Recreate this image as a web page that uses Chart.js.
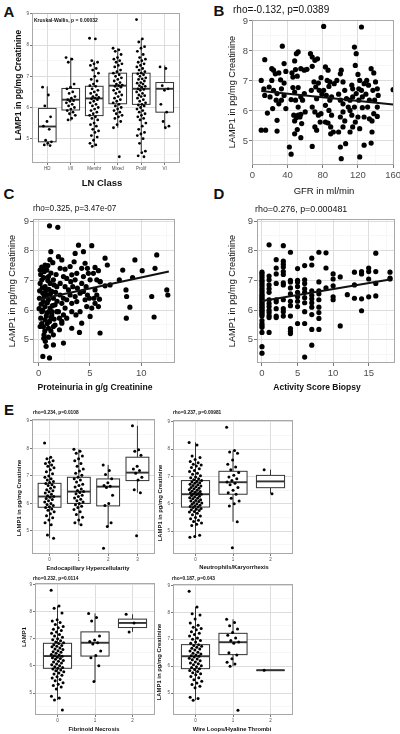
<!DOCTYPE html>
<html><head><meta charset="utf-8">
<script src="https://cdn.jsdelivr.net/npm/chart.js@4.4.1/dist/chart.umd.min.js"></script>
<style>
body{margin:0;background:#fff;width:400px;height:734px;position:relative;overflow:hidden;font-family:"Liberation Sans",Arial,sans-serif;}
canvas{position:absolute;}
.t{position:absolute;white-space:nowrap;color:#111;line-height:1;}
</style></head><body>
<script>
const FONT='"Liberation Sans", Arial, sans-serif';

// ---- A: LAMP1 by LN class ----
const lnClasses=['HD','I/II','Membr','Mixed','Prolif','VI'];
const lnVals=[
 [6.65,6.4,6.05,5.7,5.55,5.4,5.3,4.95,4.9,4.85,4.8,4.78],
 [7.6,7.55,7.45,6.75,6.65,6.6,6.5,6.45,6.35,6.3,6.25,6.22,6.2,6.15,6.1,6.05,6.0,5.95,5.9,5.85,5.8,5.75,5.65,5.6],
 [8.22,8.2,7.5,7.45,7.4,7.35,7.25,7.2,7.1,7.0,6.9,6.85,6.75,6.7,6.68,6.6,6.55,6.5,6.45,6.4,6.35,6.32,6.3,6.28,6.25,6.2,6.15,6.1,6.05,6.0,5.95,5.9,5.85,5.8,5.75,5.7,5.65,5.6,5.5,5.45,5.4,5.3,5.25,5.2,5.1,5.05,4.95,4.85,4.8,4.75],
 [7.9,7.85,7.8,7.7,7.6,7.55,7.5,7.45,7.4,7.35,7.3,7.2,7.15,7.1,7.05,7.0,6.95,6.9,6.85,6.8,6.75,6.72,6.7,6.68,6.65,6.6,6.55,6.5,6.45,6.4,6.35,6.3,6.25,6.2,6.15,6.1,6.05,6.0,5.95,5.9,5.85,5.8,5.75,5.7,5.65,5.55,5.45,5.35,4.42],
 [8.82,8.2,8.1,7.95,7.9,7.8,7.7,7.6,7.55,7.5,7.45,7.4,7.35,7.3,7.25,7.2,7.15,7.1,7.08,7.05,7.0,6.95,6.92,6.9,6.85,6.8,6.78,6.75,6.7,6.68,6.65,6.6,6.58,6.55,6.5,6.45,6.4,6.38,6.35,6.3,6.25,6.2,6.15,6.1,6.08,6.05,6.0,5.95,5.9,5.85,5.8,5.75,5.7,5.65,5.6,5.5,5.4,5.3,5.2,5.15,5.1,5.0,4.85,4.6,4.55,4.45,4.42],
 [7.3,7.25,6.7,6.6,6.55,6.1,5.85,5.55,5.4,5.35]
];
const lnLo=[4.77,5.56,4.75,5.35,4.6,5.35], lnQ1=[4.9,5.92,5.74,6.12,6.1,5.85], lnMed=[5.39,6.25,6.29,6.7,6.6,6.6], lnQ3=[5.97,6.61,6.68,7.1,7.1,6.8], lnHi=[6.68,7.6,7.5,7.9,8.2,7.35];

// ---- B: GFR vs LAMP1 ----
const gfrPts=[
 [10,7.02],[14,7.71],[10,5.36],[15,5.36],[13,6.74],[14,6.52],[17,5.93],
 [22,7.41],[24,7.36],[22,7.02],[26,7.24],[19,6.8],[20,6.47],[24,6.69],[28,6.58],[27,6.36],[23,6.08],[28,5.69],[28,5.33],
 [34,8.16],[36,7.58],[38,7.32],[30,7.27],[32,7.04],[36,6.93],[33,6.74],[36,6.52],[33,6.36],[30,6.24],[38,6.08],
 [42,4.8],[44,4.56],
 [45,7.27],[49,7.38],[50,7.91],[52,7.97],[48,7.67],[46,7.13],[51,7.16],[55,7.41],[59,7.36],[62,7.39],
 [46,6.78],[48,6.63],[52,6.78],[44,6.38],[49,6.36],[52,6.13],[55,6.47],[59,6.58],[57,6.36],
 [47,5.86],[50,5.78],[52,5.86],[54,5.8],[48,5.67],[55,5.89],[60,5.97],[48,5.24],[51,5.38],[56,5.58],[55,5.11],
 [66,7.91],[68,7.8],[71,7.69],[74,7.74],[68,7.49],[70,6.97],[72,6.8],[67,6.69],[75,6.93],[78,7.11],[76,6.69],[79,6.56],[73,6.41],[68,6.13],[71,5.97],[75,5.86],[77,5.63],[68,4.82],[71,5.47],[73,5.36],[78,5.91],[81,8.82],
 [83,7.47],[86,7.36],[85,7.02],[87,6.82],[81,6.69],[84,6.52],[88,6.36],[90,6.47],[83,6.19],[87,6.02],[90,5.86],[83,5.63],[86,5.6],[89,5.47],[92,5.3],[89,5.24],[88,6.97],[93,6.91],[96,7.02],
 [100,7.24],[101,7.36],[103,6.97],[105,6.69],[98,6.56],[100,6.36],[103,6.24],[107,6.41],[109,6.13],[103,5.97],[100,5.8],[105,5.67],[103,5.47],[98,5.3],[100,4.8],[101,4.41],[106,4.91],
 [111,6.36],[111,6.02],[113,6.86],[114,6.74],[116,8.13],[118,7.91],[117,7.52],[120,7.22],[122,7.02],[114,6.47],[118,6.58],[121,6.36],[116,6.13],[113,5.86],[120,5.8],[117,5.63],[114,5.47],[122,5.41],[111,5.3],[124,8.8],[121,6.74],[124,6.69],[125,6.47],[125,6.11],
 [127,6.91],[130,7.02],[132,6.86],[129,6.56],[133,6.36],[131,6.13],[127,5.8],[133,5.74],[122,4.47],[127,4.86],[135,4.93],[135,7.41],[138,7.27],[140,6.97],[137,6.69],[142,6.74],[139,6.36],[143,6.52],[142,6.13],[138,5.91],[136,5.67],[142,5.82],[136,5.3],[160,6.71]
];
const gfrFit=[[10,6.67],[160,6.22]];

// ---- C: proteinuria vs LAMP1 ----
const protPts=[
 [1.06,8.84],[1.87,8.79],
 [1.19,7.97],[0.47,7.41],[0.63,7.52],[0.8,7.35],[1.38,7.6],[0.96,7.13],[0.31,7.02],[0.15,6.9],[0.63,6.79],[1.12,6.9],[1.44,7.02],[0.41,6.57],[0.8,6.51],[1.28,6.63],[1.77,6.79],[0.08,6.4],[0.47,6.29],[0.96,6.35],[1.44,6.4],[0.63,6.12],[1.12,6.07],[1.6,6.18],[0.31,5.95],[0.8,5.9],[1.28,5.84],[1.77,5.95],[0.21,5.73],[0.63,5.67],[1.06,5.62],[1.51,5.7],[0.47,5.45],[0.96,5.39],[1.44,5.45],[0.15,5.45],[2.03,5.34],[2.26,5.62],[0.52,5.17],[0.96,5.09],[1.44,5.17],[0.73,4.78],[1.44,4.83],[2.42,4.89],[0.41,4.44],[1.06,4.39],
 [0.2,7.2],[0.5,7.1],[0.9,7.0],[1.2,7.25],[0.35,6.75],[0.7,6.65],[1.0,6.7],[1.5,6.85],[0.25,6.2],[0.55,6.45],[0.85,6.25],[1.15,6.55],[1.35,6.15],[0.4,6.0],[0.75,5.8],[1.0,5.95],[1.2,5.75],[0.3,5.55],[0.6,5.3],[0.85,5.55],[1.2,5.3],[1.6,5.5],[0.1,6.65],[0.05,6.05],[0.55,7.3],[1.65,6.6],[1.8,6.3],[1.7,7.2],[0.9,7.5],[1.1,7.7],[0.3,7.45],[0.15,7.35],[1.3,5.95],[0.5,5.05],[0.65,4.95],
 [1.93,7.8],[2.26,7.69],[2.1,7.41],[2.58,7.38],[2.42,7.13],[2.74,7.07],[2.1,6.9],[2.58,6.79],[2.91,6.68],[2.1,6.51],[2.42,6.4],[2.74,6.35],[2.26,6.23],[2.58,6.07],[1.93,5.95],[2.42,5.84],[2.74,5.73],[2.26,5.56],[2.03,5.73],
 [3.07,7.47],[3.46,7.63],[3.56,7.91],[3.23,7.19],[3.72,7.24],[3.13,6.96],[3.56,7.02],[3.33,6.79],[3.78,6.74],[3.07,6.51],[3.56,6.46],[4.04,6.57],[3.23,6.23],[3.72,6.29],[3.23,5.95],[3.64,5.84],[4.04,5.95],[4.2,5.56],[3.23,5.39],[3.98,5.25],
 [3.89,8.19],[4.37,7.97],[4.53,7.58],[4.2,7.41],[4.76,7.41],[4.37,7.13],[4.85,7.24],[4.2,6.9],[4.63,6.79],[5.02,7.02],[4.37,6.63],[4.76,6.51],[4.53,6.35],[4.95,6.4],[4.69,6.12],[5.18,6.07],[5.02,5.79],
 [5.18,8.17],[5.5,7.44],[5.83,7.33],[5.34,7.24],[5.67,7.02],[5.99,6.96],[5.5,6.68],[5.67,6.51],[5.4,6.4],[5.93,6.37],[5.5,6.23],[5.83,6.12],[5.99,5.23],
 [6.48,7.75],[6.7,7.52],[6.0,6.96],[6.48,6.82],
 [6.97,6.85],[7.87,7.02],[8.2,7.35],[8.52,6.68],[8.55,5.73],[8.9,6.1],[8.58,6.46],[9.16,7.1],[9.39,7.69],[10.1,7.33],[11.03,6.46],[11.35,7.41],[11.26,5.77],[11.52,7.86],[12.5,6.68],[12.6,6.51]
];
const protFit=[[0.1,6.37],[12.7,7.3]];

// ---- D: activity score vs LAMP1 ----
const actPts=[
 [0,7.28],[0,7.22],[0,7.15],[0,7.08],[0,7.0],[0,6.95],[0,6.88],[0,6.82],[0,6.75],[0,6.68],[0,6.62],[0,6.55],[0,6.5],[0,6.45],[0,6.4],[0,6.35],[0,6.3],[0,6.25],[0,6.2],[0,6.15],[0,6.1],[0,6.05],[0,6.0],[0,5.95],[0,5.9],[0,5.85],[0,5.8],[0,5.65],[0,5.55],[0,5.48],[0,5.42],[0,5.25],[0,4.77],[0,4.55],
 [1,8.2],[1,7.15],[1,7.02],[1,6.85],[1,6.72],[1,6.6],[1,6.35],[1,6.22],[1,6.12],[1,6.0],[1,5.92],[1,5.82],[1,5.75],[1,5.25],
 [2,7.7],[2,7.42],[2,7.22],[2,6.9],[2,6.35],[2,6.28],[2,6.05],[2,5.8],[2,5.75],
 [3,8.17],[3,7.65],[3,7.55],[3,7.45],[3,7.3],[3,7.2],[3,6.92],[3,6.85],[3,6.35],[3,6.05],[3,5.95],[3,5.8],
 [4,7.95],[4,7.0],[4,6.95],[4,6.75],[4,6.55],[4,6.3],[4,6.15],[4,5.8],[4,5.38],[4,5.29],[4,5.21],
 [5,7.4],[5,7.0],[5,6.95],[5,6.8],[5,6.6],[5,6.45],[5,6.3],[5,6.12],[5,5.55],
 [6,7.5],[6,7.02],[6,6.9],[6,6.72],[6,6.6],[6,6.42],[6,6.25],[6,5.95],[6,5.55],[6,4.42],
 [7,7.75],[7,7.52],[7,6.65],[7,6.5],[7,6.38],[7,6.25],[7,6.1],[7,5.85],[7,5.35],[7,4.82],
 [8,7.95],[8,6.95],[8,6.65],[8,6.55],[8,6.35],[8,6.1],[8,5.92],[8,5.72],[8,5.35],
 [9,7.93],[9,7.42],[9,6.75],
 [10,7.22],[10,7.05],[10,6.82],[10,6.45],[10,6.35],
 [11,7.12],[11,5.47],[12,6.52],
 [13,7.28],[13,6.85],[13,6.4],
 [14,7.3],[14,7.22],[14,6.38],[14,5.98],
 [15,7.42],[15,7.3],[15,7.05],[15,6.45],
 [16,7.92],[16,7.3],[16,6.9],[16,6.48],
 [18,7.28],[18,7.08],[18,7.05]
];
const actFit=[[0,6.31],[18,7.03]];

// ---- E: histology features ----
const endoVals=[
 [8.2,7.68,7.62,7.55,7.5,7.45,7.4,7.35,7.3,7.22,7.15,7.08,7.0,6.95,6.9,6.85,6.8,6.76,6.72,6.68,6.65,6.6,6.55,6.5,6.46,6.42,6.38,6.33,6.28,6.25,6.22,6.18,6.14,6.1,6.05,6.0,5.96,5.92,5.88,5.85,5.8,5.75,5.7,5.62,5.55,5.48,5.4,5.3,5.22,4.85,4.73],
 [7.97,7.9,7.82,7.72,7.62,7.55,7.45,7.35,7.25,7.18,7.1,7.02,6.95,6.9,6.85,6.78,6.7,6.65,6.6,6.52,6.47,6.43,6.4,6.35,6.3,6.25,6.2,6.15,6.1,6.05,6.0,5.95,5.9,5.85,5.78,5.7,5.6,5.5,5.4,5.3,5.22],
 [7.4,7.2,7.05,6.9,6.75,6.65,6.62,6.58,6.3,6.0,5.92,5.3,5.16,4.37],
 [8.82,7.95,7.9,7.75,7.35,7.25,7.2,7.1,6.95,6.85,6.5,6.39,4.82]
];
const endoLo=[4.73,5.22,5.16,6.39], endoQ1=[5.86,6.0,5.91,6.83], endoMed=[6.25,6.43,6.61,7.12], endoQ3=[6.73,6.95,6.89,7.68], endoHi=[7.68,7.97,7.4,8.82];

const neutVals=[
 [8.25,8.15,7.75,7.7,7.62,7.55,7.5,7.45,7.42,7.38,7.33,7.28,7.22,7.18,7.12,7.08,7.03,6.98,6.95,6.92,6.88,6.85,6.82,6.8,6.77,6.75,6.72,6.7,6.67,6.65,6.62,6.6,6.57,6.55,6.52,6.5,6.47,6.45,6.42,6.4,6.38,6.36,6.35,6.33,6.3,6.28,6.25,6.22,6.2,6.18,6.15,6.12,6.1,6.08,6.05,6.03,6.0,5.98,5.95,5.93,5.9,5.88,5.86,5.83,5.8,5.78,5.75,5.72,5.7,5.65,5.6,5.55,5.5,5.45,5.4,5.35,5.3,5.25,5.2,4.85,4.8,4.77],
 [8.8,7.95,7.9,7.85,7.6,7.45,7.35,7.25,7.15,7.05,6.98,6.92,6.85,6.8,6.75,6.7,6.6,6.5,6.4,6.35,6.2,6.1,6.0,5.92,5.34,4.39],
 [7.25,6.37]
];
const neutLo=[4.77,5.34,6.37], neutQ1=[5.88,6.35,6.59], neutMed=[6.35,6.79,6.82], neutQ3=[6.85,7.19,7.04], neutHi=[8.25,7.95,7.25];

const fibVals=[
 [8.78,8.2,8.12,7.95,7.7,7.65,7.6,7.52,7.45,7.4,7.35,7.3,7.25,7.2,7.15,7.1,7.05,7.0,6.96,6.92,6.88,6.85,6.82,6.78,6.75,6.72,6.7,6.66,6.62,6.6,6.56,6.52,6.5,6.46,6.42,6.4,6.37,6.35,6.32,6.3,6.27,6.24,6.2,6.17,6.14,6.1,6.07,6.04,6.0,5.97,5.94,5.91,5.88,5.85,5.82,5.78,5.74,5.7,5.65,5.6,5.55,5.5,5.45,5.38,5.32,5.28,5.22,5.15,4.88,4.82,4.74,4.37],
 [7.93,7.78,7.65,7.1,6.95,6.9,6.85,6.8,6.55,6.38,6.3,6.0,5.42],
 [7.9,7.58,7.25]
];
const fibLo=[4.74,5.42,7.25], fibQ1=[5.91,6.36,7.41], fibMed=[6.36,6.85,7.58], fibQ3=[6.83,7.25,7.72], fibHi=[8.2,7.93,7.9];

const wireVals=[
 [8.78,8.2,7.95,7.9,7.75,7.6,7.52,7.45,7.4,7.35,7.28,7.22,7.18,7.12,7.05,7.0,6.95,6.9,6.85,6.8,6.77,6.74,6.7,6.67,6.64,6.6,6.56,6.52,6.48,6.45,6.42,6.39,6.37,6.34,6.3,6.27,6.24,6.2,6.16,6.12,6.09,6.05,6.02,5.98,5.95,5.91,5.88,5.84,5.8,5.76,5.72,5.68,5.62,5.57,5.5,5.44,5.38,5.32,5.26,5.2,4.85,4.8,4.74],
 [7.74,7.62,7.5,7.38,7.25,7.15,7.05,6.95,6.9,6.85,6.5,6.42,6.28,6.15,6.08,6.0,4.37],
 [5.85]
];
const wireLo=[4.74,6.0,5.85], wireQ1=[5.91,6.43,5.85], wireMed=[6.37,6.89,5.85], wireQ3=[6.8,7.22,5.85], wireHi=[8.2,7.74,5.85];

// ---------- helpers ----------
function jitter(groups,w){
  const pts=[];
  groups.forEach((ys,c)=>ys.forEach((y,i)=>{ const f=(i*0.618034)%1-0.5; pts.push({x:c+f*2*w,y}); }));
  return pts;
}
const toXY=a=>a.map(p=>({x:p[0],y:p[1]}));

function axis(o){
  const maj=c=>c.tick&&o.major(c.tick.value);
  return {
    type:'linear',min:o.min,max:o.max,
    afterFit:s=>{ if(s.isHorizontal()) s.height=o.size; else s.width=o.size; s.paddingLeft=s.paddingRight=s.paddingTop=s.paddingBottom=0; },
    ticks:{stepSize:o.step,includeBounds:false,autoSkip:false,maxRotation:0,minRotation:0,padding:o.pad,color:'#4d4d4d',
      font:{family:FONT,size:o.font},callback:v=>o.major(v)?o.fmt(v):''},
    grid:{drawTicks:true,tickLength:o.tl,color:c=>maj(c)?'#d9d9d9':'#efefef',lineWidth:c=>maj(c)?0.9:0.5,
      tickColor:c=>maj(c)?'#555':'rgba(0,0,0,0)',tickWidth:0.8},
    border:{display:false}
  };
}
const frame={id:'frame',afterDatasetsDraw(ch){
  const a=ch.chartArea,c=ch.ctx; c.save(); c.strokeStyle='#a8a8a8'; c.lineWidth=1;
  c.strokeRect(a.left+0.5,a.top+0.5,a.right-a.left-1,a.bottom-a.top-1); c.restore();
}};
function boxes(lo,q1,med,q3,hi,w,lw){
  return {id:'boxes',beforeDatasetsDraw(ch){
    const {ctx,scales:{x,y}}=ch; ctx.save(); ctx.strokeStyle='#333';
    med.forEach((m,i)=>{
      const cx=x.getPixelForValue(i), hw=x.getPixelForValue(i+w/2)-cx;
      const t=y.getPixelForValue(q3[i]), b=y.getPixelForValue(q1[i]);
      ctx.lineWidth=lw; ctx.beginPath();
      ctx.moveTo(cx,y.getPixelForValue(hi[i])); ctx.lineTo(cx,t);
      ctx.moveTo(cx,b); ctx.lineTo(cx,y.getPixelForValue(lo[i])); ctx.stroke();
      ctx.fillStyle='#fff'; ctx.fillRect(cx-hw,t,2*hw,b-t); ctx.strokeRect(cx-hw,t,2*hw,b-t);
      const ym=y.getPixelForValue(m); ctx.lineWidth=lw*1.9; ctx.beginPath(); ctx.moveTo(cx-hw,ym); ctx.lineTo(cx+hw,ym); ctx.stroke();
    });
    ctx.restore();
  }};
}
function panel(b,xa,ya,datasets,plugs){
  const pad=8, c=document.createElement('canvas');
  c.width=b.R-b.L+b.yw+2*pad; c.height=b.B-b.T+b.xh+2*pad;
  c.style.left=(b.L-b.yw-pad)+'px'; c.style.top=(b.T-pad)+'px';
  document.body.appendChild(c);
  new Chart(c,{type:'scatter',data:{datasets},options:{responsive:false,animation:false,events:[],
    layout:{padding:pad},plugins:{legend:{display:false},tooltip:{enabled:false}},
    scales:{x:axis(Object.assign({size:b.xh},xa)),y:axis(Object.assign({size:b.yw},ya))}},
    plugins:[frame].concat(plugs||[])});
}
function txt(s,x,y,size,o={}){
  const d=document.createElement('div'); d.className='t'; d.textContent=s;
  d.style.fontSize=size+'px'; d.style.left=x+'px'; d.style.top=y+'px';
  if(o.w) d.style.fontWeight=o.w;
  d.style.transform=o.rot?'translate(-50%,-50%) rotate(-90deg)':(o.left?'translate(0,-50%)':'translate(-50%,-50%)');
  document.body.appendChild(d);
}
const isInt=v=>Math.abs(v-Math.round(v))<1e-6;
const dots=(data,r)=>({data,pointRadius:r,pointBackgroundColor:'#000',pointBorderWidth:0,order:2});
const fit=data=>({data:toXY(data),showLine:true,borderColor:'#111',borderWidth:2,pointRadius:0,order:1});
const yLamp=(min,max,f)=>({min,max,step:0.5,major:isInt,fmt:v=>String(v),font:f,tl:f>6?3:2,pad:1});
const xCat=(min,max,labels,f,tl)=>({min,max,step:1,major:()=>true,fmt:v=>labels?labels[v]:String(v),font:f,tl:2,pad:tl});

// ---------- A ----------
panel({L:32,R:180,T:13,B:163,yw:8,xh:10},xCat(-0.65,5.65,lnClasses,4.5,1.5),yLamp(4.22,9.03,4.5),
  [dots(jitter(lnVals,0.2),1.4)],[boxes(lnLo,lnQ1,lnMed,lnQ3,lnHi,0.75,1)]);
// ---------- B ----------
panel({L:252,R:394,T:20,B:165,yw:18,xh:16},{min:-0.5,max:161,step:20,major:v=>v%40===0,fmt:v=>String(v),font:9.5,tl:3,pad:2},yLamp(4.2,9.033,9.5),
  [fit(gfrFit),dots(toXY(gfrPts),2.6)]);
// ---------- C ----------
panel({L:33,R:175,T:219,B:363,yw:18,xh:16},{min:-0.55,max:13.3,step:2.5,major:v=>isInt(v/5),fmt:v=>String(v),font:9.5,tl:3,pad:2},yLamp(4.22,9.07,9.5),
  [fit(protFit),dots(toXY(protPts),2.6)]);
// ---------- D ----------
panel({L:257,R:395,T:219,B:363,yw:18,xh:16},{min:-0.7,max:18.7,step:2.5,major:v=>isInt(v/5),fmt:v=>String(v),font:9.5,tl:3,pad:2},yLamp(4.22,9.07,9.5),
  [fit(actFit),dots(toXY(actPts),2.6)]);
// ---------- E ----------
panel({L:32,R:155,T:419,B:554,yw:8,xh:8},xCat(-0.6,3.6,null,4.5,1),yLamp(4.16,9.07,4.5),
  [dots(jitter(endoVals,0.17),1.5)],[boxes(endoLo,endoQ1,endoMed,endoQ3,endoHi,0.78,1)]);
panel({L:173,R:293,T:420,B:554,yw:8,xh:8},xCat(-0.6,2.6,null,4.5,1),yLamp(4.16,9.07,4.5),
  [dots(jitter(neutVals,0.17),1.5)],[boxes(neutLo,neutQ1,neutMed,neutQ3,neutHi,0.75,1)]);
panel({L:35,R:155,T:583,B:715,yw:8,xh:8},xCat(-0.6,2.6,null,4.5,1.5),yLamp(4.19,9.05,4.5),
  [dots(jitter(fibVals,0.17),1.5)],[boxes(fibLo,fibQ1,fibMed,fibQ3,fibHi,0.75,1)]);
panel({L:173,R:293,T:584,B:715,yw:8,xh:8},xCat(-0.6,2.6,null,4.5,1.5),yLamp(4.19,9.05,4.5),
  [dots(jitter(wireVals,0.17),1.5)],[boxes(wireLo,wireQ1,wireMed,wireQ3,wireHi,0.75,1)]);

// ---------- text ----------
[['A',9,11],['B',219,10],['C',9,192.5],['D',219,192.5],['E',9,409]].forEach(l=>txt(l[0],l[1],l[2],15,{w:'bold'}));
txt('Kruskal-Wallis, p = 0.00032',34,19.5,5,{w:'bold',left:true});
txt('LAMP1 in pg/mg Creatinine',18,85,8.5,{w:'bold',rot:true});
txt('LN Class',102,183,9.5,{w:'bold'});
txt('rho=-0.132, p=0.0389',233,10,10,{left:true});
txt('LAMP1 in pg/mg Creatinine',233,92,9.2,{rot:true});
txt('GFR in ml/min',324,191,9.5);
txt('rho=0.325, p=3.47e-07',33,209,8.2,{left:true});
txt('LAMP1 in pg/mg Creatinine',13,291,9.2,{rot:true});
txt('Proteinuria in g/g Creatinine',95,387,8.6,{w:'bold'});
txt('rho=0.276, p=0.000481',255,209,8.9,{left:true});
txt('LAMP1 in pg/mg Creatinine',233,291,9.2,{rot:true});
txt('Activity Score Biopsy',317,387,8.5,{w:'bold'});
txt('rho=0.234, p=0.0108',33,413,4.8,{w:'bold',left:true});
txt('LAMP1 in pg/mg Creatinine',20,498,5.9,{w:'bold',rot:true});
txt('Endocapillary Hypercellularity',88,569,5.8,{w:'bold'});
txt('rho=0.237, p=0.00981',173,413,4.8,{w:'bold',left:true});
txt('LAMP1 in pg/mg Creatinine',161,503,5.9,{w:'bold',rot:true});
txt('Neutrophils/Karyorrhexis',234,568,5.8,{w:'bold'});
txt('rho=0.232, p=0.0114',33,579,4.8,{w:'bold',left:true});
txt('LAMP1',25,637,5.9,{w:'bold',rot:true});
txt('Fibrinoid Necrosis',94,730,5.8,{w:'bold'});
txt('rho=0.187, p=0.043',172,579,4.8,{w:'bold',left:true});
txt('LAMP1 in pg/mg Creatinine',160,662,5.9,{w:'bold',rot:true});
txt('Wire Loops/Hyaline Thrombi',232,730,5.8,{w:'bold'});
</script>
</body></html>
